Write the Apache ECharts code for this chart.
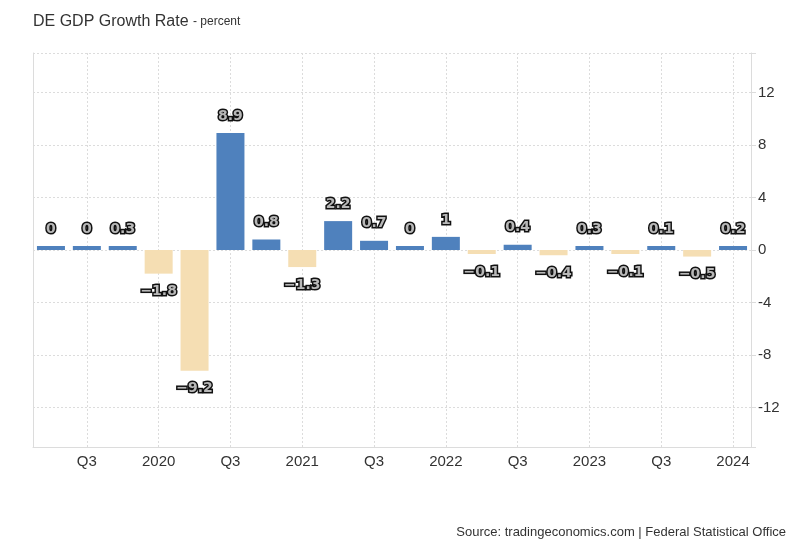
<!DOCTYPE html>
<html>
<head>
<meta charset="utf-8">
<script src="https://cdn.jsdelivr.net/npm/echarts@6/dist/echarts.min.js"></script>
<style>
html,body{margin:0;padding:0;background:#fff;}
#chart{width:800px;height:547px;}
</style>
</head>
<body>
<div id="chart"></div>
<script>
const categories = ['Q2 2019','Q3 2019','Q4 2019','Q1 2020','Q2 2020','Q3 2020','Q4 2020','Q1 2021','Q2 2021','Q3 2021','Q4 2021','Q1 2022','Q2 2022','Q3 2022','Q4 2022','Q1 2023','Q2 2023','Q3 2023','Q4 2023','Q1 2024'];
const axisLabels = ['Q2','Q3','Q4','2020','Q2','Q3','Q4','2021','Q2','Q3','Q4','2022','Q2','Q3','Q4','2023','Q2','Q3','Q4','2024'];
const growth = [0, 0, 0.3, -1.8, -9.2, 8.9, 0.8, -1.3, 2.2, 0.7, 0, 1, -0.1, 0.4, -0.4, 0.3, -0.1, 0.1, -0.5, 0.2];
const yTickLabels = [-12, -8, -4, 0, 4, 8, 12];
const yGridValues = [-15, -12, -8, -4, 0, 4, 8, 12, 15];
const xGridValues = [1, 3, 5, 7, 9, 11, 13, 15, 17, 19];

const BLUE = '#4f81bd', BEIGE = '#f5deb3';
const chart = echarts.init(document.getElementById('chart'), null, {renderer: 'canvas'});
const gridLine = {color: '#dcdcdc', type: [2, 2], width: 1};

chart.setOption({
  animation: false,
  title: {
    text: 'DE GDP Growth Rate',
    left: 28, top: 9,
    textStyle: {fontFamily: 'Liberation Sans, Arial', fontSize: 16, fontWeight: 'normal', color: '#333'}
  },
  graphic: [
    {type: 'text', left: 193, top: 16, style: {text: '- percent', font: '12px "Liberation Sans", Arial', fill: '#333'}},
    {type: 'text', right: 14, top: 526, style: {text: 'Source: tradingeconomics.com | Federal Statistical Office', font: '13px "Liberation Sans", Arial', fill: '#333'}}
  ],
  grid: {left: 33, right: 49, top: 53, bottom: 100},
  xAxis: [
    {
      type: 'category',
      data: categories,
      axisLine: {show: true, onZero: false, lineStyle: {color: '#dcdcdc'}},
      axisTick: {show: false},
      axisLabel: {
        interval: 0,
        formatter: (v, i) => (i % 2 === 1 ? axisLabels[i] : ''),
        color: '#333', fontSize: 15, fontFamily: 'Liberation Sans, Arial', margin: 7
      },
      splitLine: {show: false}
    },
    {
      type: 'value', min: -0.5, max: 19.5, position: 'bottom',
      axisLine: {show: false, onZero: false},
      axisTick: {show: false, customValues: xGridValues},
      axisLabel: {show: false, customValues: xGridValues},
      splitLine: {show: true, lineStyle: gridLine}
    }
  ],
  yAxis: [
    {
      type: 'value', position: 'right', min: -15, max: 15,
      axisLine: {show: true, onZero: false, lineStyle: {color: '#dcdcdc'}},
      axisTick: {show: true, length: 5, customValues: yGridValues, lineStyle: {color: '#dcdcdc'}},
      axisLabel: {customValues: yTickLabels, color: '#333', fontSize: 15, fontFamily: 'Liberation Sans, Arial', margin: 7},
      splitLine: {show: true, lineStyle: gridLine}
    },
    {
      type: 'value', position: 'left', min: -15, max: 15,
      axisLine: {show: true, onZero: false, lineStyle: {color: '#dcdcdc'}},
      axisTick: {show: false}, axisLabel: {show: false}, splitLine: {show: false}
    }
  ],
  series: [{
    type: 'bar',
    xAxisIndex: 0, yAxisIndex: 0,
    barCategoryGap: '22%',
    barMinHeight: 4,
    data: growth.map(v => ({
      value: v,
      itemStyle: {color: v < 0 ? BEIGE : BLUE},
      label: {position: v < 0 ? 'bottom' : 'top', distance: v < 0 ? 11 : 10}
    })),
    label: {
      show: true,
      formatter: p => (p.value < 0 ? '\u2212' + Math.abs(p.value) : String(p.value)),
      fontFamily: 'DejaVu Sans, Verdana', fontWeight: 'bold', fontSize: 14,
      color: '#b8b8b8', textBorderColor: '#111', textBorderWidth: 3
    }
  }]
});
</script>
</body>
</html>
